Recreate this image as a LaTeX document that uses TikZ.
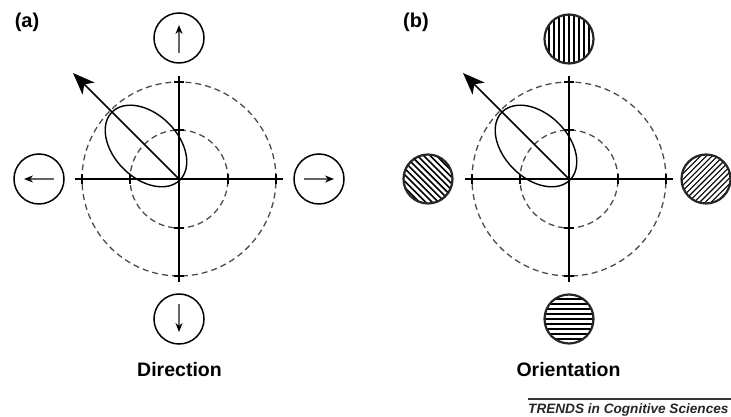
\documentclass[tikz,border=0pt]{standalone}
\usepackage{fontspec}
\setmainfont{Liberation Sans}
\usetikzlibrary{arrows.meta}
\begin{document}
\begin{tikzpicture}[x=1pt,y=1pt,
  axisline/.style={line width=1.4pt, black},
  guide/.style={dash pattern=on 6pt off 4pt, line width=1.3pt, black!70},
  tickmark/.style={line width=1.2pt, black},
  prefarrow/.style={line width=1.6pt, -{Stealth[length=22pt,width=17pt,inset=6pt]}},
  dirdisc/.style={circle, draw, line width=1.5pt, minimum size=50pt, inner sep=0pt},
  dirarrow/.style={line width=1.4pt, black!60, -{Stealth[color=black,length=9pt,width=7pt]}},
  hatchdisc/.style n args={3}{circle, draw=black!85, line width=2.2pt, minimum size=49pt, inner sep=0pt,
    path picture={
      \foreach \i in {-8,...,8}
        \draw[line width=#3, black]
          ([shift={({#1+90}:{\i*#2})}]path picture bounding box.center) ++({#1}:35pt) -- ++({#1+180}:70pt);
    }},
  caption/.style={font=\bfseries\fontsize{19.5}{23}\selectfont},
  panel/.style={font=\bfseries\fontsize{20}{24}\selectfont},
  dial/.pic={
    \draw[guide] (0,0) circle[radius=97pt];
    \draw[guide] (0,0) circle[radius=49pt];
    \draw[axisline] (-104,0) -- (104,0);
    \draw[axisline] (0,-103) -- (0,103);
    \foreach \r in {-97,-49,49,97} {
      \draw[tickmark] (\r,-5) -- (\r,5);
      \draw[tickmark] (-5,\r) -- (5,\r);
    }
    \begin{scope}[shift={(-33,33)}, rotate=-45]
      \draw[axisline] (0,0) ellipse[x radius=48pt, y radius=32pt];
    \end{scope}
    \coordinate (-tip) at (-106,106);
    \draw[prefarrow] (0,0) -- (-tip);
  }]
\useasboundingbox (0,0) rectangle (731,417);

% panel (a)
\coordinate (ca) at (179,238);
\pic (da) at (ca) {dial};
\node[dirdisc] (aN) at (179,379) {};
\node[dirdisc] (aS) at (179,98) {};
\node[dirdisc] (aW) at (39,238) {};
\node[dirdisc] (aE) at (319,238) {};
\draw[dirarrow] ([yshift=-15pt]aN.center) -- ([yshift=13pt]aN.center);
\draw[dirarrow] ([yshift=15pt]aS.center) -- ([yshift=-13pt]aS.center);
\draw[dirarrow] ([xshift=15pt]aW.center) -- ([xshift=-15pt]aW.center);
\draw[dirarrow] ([xshift=-15pt]aE.center) -- ([xshift=15pt]aE.center);
\node[panel] (pa) at (27,395) {(a)};
\node[caption] (ta) at (179.5,47) {Direction};

% panel (b)
\coordinate (cb) at (569,238);
\pic (db) at (cb) {dial};
\node[hatchdisc={90}{5pt}{1.8pt}] (bN) at (569,378) {};
\node[hatchdisc={0}{5pt}{1.8pt}] (bS) at (569,98) {};
\node[hatchdisc={-45}{4.5pt}{1.6pt}] (bW) at (428,238) {};
\node[hatchdisc={45}{4pt}{1.1pt}] (bE) at (706,238) {};
\node[panel] (pb) at (416,395) {(b)};
\node[caption] (tb) at (568.5,47) {Orientation};

% footer
\coordinate (fl) at (528,18);
\coordinate (fr) at (731,18);
\draw[line width=1.3pt, black!80] (fl) -- (fr);
\node[anchor=base west, inner sep=0pt, font=\bfseries\itshape\fontsize{13.6}{16}\selectfont, black!85] (ft) at (528,3) {TRENDS in Cognitive Sciences};
\end{tikzpicture}
\end{document}
